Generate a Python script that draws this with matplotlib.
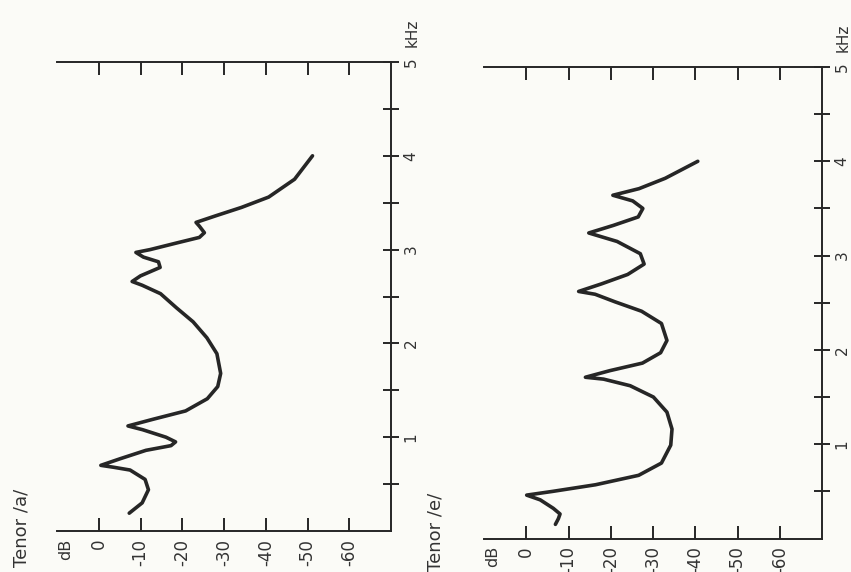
import matplotlib.pyplot as plt

# spectrum envelopes (frequency in kHz, level in dB)
a_freq = [0.19, 0.30, 0.44, 0.55, 0.65, 0.68, 0.70, 0.77, 0.86, 0.91, 0.95, 1.00,
          1.08, 1.12, 1.19, 1.28, 1.41, 1.54, 1.68, 1.89, 2.06, 2.23, 2.38, 2.53,
          2.62, 2.66, 2.72, 2.81, 2.87, 2.92, 2.97, 3.00, 3.07, 3.13, 3.18, 3.25,
          3.29, 3.36, 3.45, 3.56, 3.75, 4.00]
a_db = [-7.3, -10.4, -11.9, -11.1, -7.5, -3.5, -0.5, -5.1, -11.3, -17.3, -18.4, -16.1,
        -10.5, -7.0, -12.9, -20.8, -26.0, -28.5, -29.2, -28.3, -25.9, -22.6, -18.6, -14.8,
        -10.4, -8.0, -10.0, -14.7, -14.3, -10.7, -8.9, -12.3, -18.6, -24.1, -25.3, -24.1,
        -23.3, -28.0, -34.2, -40.7, -46.9, -51.2]

e_freq = [0.15, 0.21, 0.26, 0.32, 0.41, 0.46, 0.50, 0.57, 0.67, 0.80, 0.99, 1.16,
          1.34, 1.50, 1.62, 1.69, 1.71, 1.78, 1.86, 1.97, 2.10, 2.28, 2.41, 2.51,
          2.59, 2.62, 2.70, 2.80, 2.91, 3.02, 3.15, 3.24, 3.32, 3.41, 3.50, 3.58,
          3.64, 3.71, 3.82, 4.00]
e_db = [-6.9, -7.6, -8.0, -6.4, -3.3, -0.1, -6.3, -16.4, -26.6, -32.0, -34.2, -34.5,
        -33.3, -30.1, -24.6, -18.3, -14.0, -19.8, -27.5, -31.8, -33.3, -32.0, -27.3, -21.0,
        -16.3, -12.4, -17.8, -24.0, -27.9, -27.0, -21.5, -14.8, -20.6, -26.5, -27.6, -25.2,
        -20.5, -26.7, -32.9, -40.6]

db_ticks = [0, -10, -20, -30, -40, -50, -60]
db_labels = ['0', '-10', '-20', '-30', '-40', '-50', '-60']
khz_ticks = [1, 2, 3, 4, 5]
khz_labels = ['1', '2', '3', '4', '5']
khz_half = [0.5, 1.5, 2.5, 3.5, 4.5]

ink = '#262626'
paper = '#fbfbf7'

fig = plt.figure(figsize=(8.51, 5.72), dpi=100, facecolor=paper)

panels = [
    ('Tenor /a/', a_freq, a_db, [57 / 851, 41 / 572, 334 / 851, 469 / 572], 21 / 851, 5 / 572),
    ('Tenor /e/', e_freq, e_db, [484 / 851, 33.5 / 572, 338 / 851, 471.5 / 572], 436 / 851, 1 / 572),
]

for title, freq, db, rect, tx, ty in panels:
    ax = fig.add_axes(rect)
    ax.set_facecolor('none')
    # the page is printed turned on its side: level runs across, frequency runs up
    ax.plot(db, freq, color=ink, lw=2.6, solid_capstyle='round', solid_joinstyle='round')
    ax.set_xlim(10, -70)
    ax.set_ylim(0, 5)

    ax.spines['left'].set_visible(False)
    for s in ['top', 'bottom', 'right']:
        ax.spines[s].set_linewidth(1.4)
        ax.spines[s].set_color(ink)

    ax.set_xticks(db_ticks, db_labels)
    ax.tick_params(axis='x', direction='in', length=9.5, width=1.4, color=ink,
                   top=True, bottom=True, labeltop=False, labelbottom=True,
                   labelrotation=90, labelsize=12, labelcolor='#333333', pad=5.5)

    ax.yaxis.set_ticks_position('right')
    ax.set_yticks(khz_ticks, khz_labels)
    ax.set_yticks(khz_half, minor=True)
    ax.tick_params(axis='y', which='both', direction='inout', length=11, width=1.4,
                   color=ink, left=False, right=True, labelleft=False, labelright=True,
                   labelrotation=90, labelsize=11, labelcolor='#333333', pad=3.5)
    for lbl in ax.get_yticklabels():
        lbl.set_va('center')
        lbl.set_ha('left')

    ax.annotate('dB', xy=(8, 0), xycoords='data', xytext=(0, -5.5),
                textcoords='offset points', rotation=90, ha='center', va='top',
                fontsize=11.5, color='#333333', annotation_clip=False)
    ax.annotate('kHz', xy=(1, 5), xycoords=('axes fraction', 'data'), xytext=(9.5, 11),
                textcoords='offset points', rotation=90, ha='left', va='bottom',
                fontsize=11, color='#333333', annotation_clip=False)

    fig.text(tx, ty, title, rotation=90, ha='center', va='bottom',
             fontsize=13, color='#333333')

fig.savefig('out.png', dpi=100, facecolor=paper)
